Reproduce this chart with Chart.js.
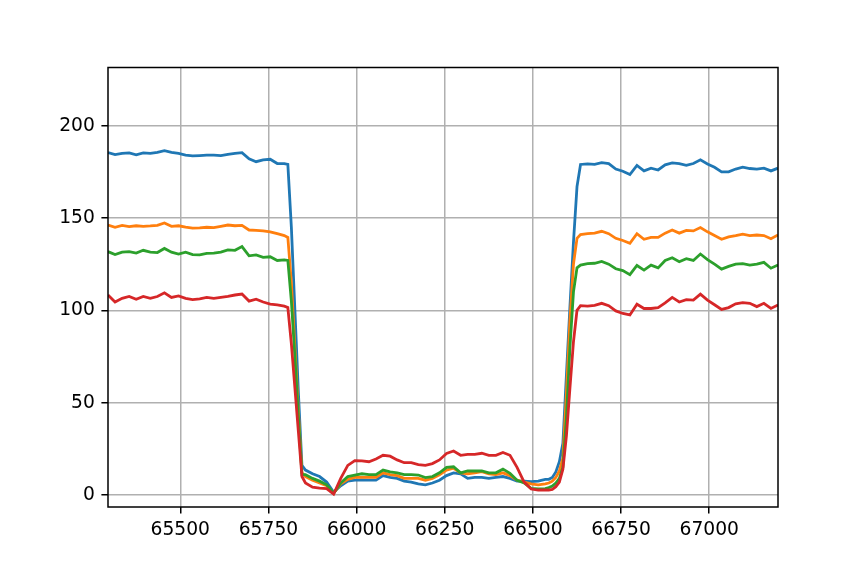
<!DOCTYPE html>
<html>
<head>
<meta charset="utf-8">
<script src="https://cdn.jsdelivr.net/npm/chart.js@4.4.1/dist/chart.umd.min.js"></script>
<style>
  html, body { margin: 0; padding: 0; background: #ffffff; }
  #wrap { width: 864px; height: 570px; }
</style>
</head>
<body>
<div id="wrap"><canvas id="c" width="864" height="570"></canvas></div>
<script>
// ---- data ----
const xValues = [
  65295,65315,65335,65355,65375,65395,65415,65435,65455,65475,65495,65515,65535,65555,65575,65595,65615,65635,65655,65675,65695,65715,65735,65755,65775,65795,
  65805,65815,65825,65835,65845,
  65855,65875,65895,65915,65935,65955,65975,65995,66015,66035,66055,66075,66095,66115,66135,66155,66175,66195,66215,66235,66255,66275,66295,66315,66335,66355,66375,66395,66415,66435,66455,66475,66495,66515,66535,
  66545,66555,66565,66575,66585,66595,66605,66615,66625,
  66635,66655,66675,66695,66715,66735,66755,66775,66795,66815,66835,66855,66875,66895,66915,66935,66955,66975,66995,67015,67035,67055,67075,67095,67115,67135,67155,67175,67195
];
const series1 = [
  185.4,184.3,185,185.3,184.2,185.3,185,185.5,186.5,185.5,185,184,183.6,183.8,184,184,183.8,184.5,185,185.4,182,180.5,181.5,181.8,179.5,179.5,
  179,145,100,55,16,
  13.5,11.5,10,7,1.5,5,7.5,8,8.2,8,8,10.5,9.5,9,7.5,7,6,5.5,6.5,8,10.5,12,11.5,9,9.5,9.5,9,9.5,10,9,7.5,7.5,7.2,7.5,8.5,
  8.5,9.5,12.5,18,28,65,102,137,167,
  179,179.3,179,180,179.5,176.5,175.3,173.5,178.5,175.5,177,176,178.8,179.8,179.5,178.5,179.5,181.5,179.3,177.5,175,175,176.5,177.5,176.8,176.5,177,175.5,177
];
const series2 = [
  146.2,145,146,145.3,145.8,145.5,145.7,146,147.3,145.5,145.8,145,144.5,144.6,145,144.8,145.5,146.2,145.8,146,143.5,143.3,143,142.5,141.5,140.5,
  139.5,115,80,45,12,
  10,8,6.5,5,1,6,8.5,9.5,9.5,9.5,9.5,12,11,10.5,9,9,9,8,9,11,13.5,14.5,12,11.5,12,12.6,11.5,11,12,10.5,8,7,6,5.5,6,
  6.5,7.5,9.5,13,20,55,95,125,139,
  141,141.5,141.8,142.8,141.5,139,137.8,136.3,141.5,138.5,139.5,139.5,141.8,143.5,141.8,143.3,143,144.8,142.5,140.5,138.5,139.8,140.5,141.3,140.5,140.8,140.5,138.8,140.8
];
const series3 = [
  131.8,130.2,131.5,131.8,131,132.5,131.5,131.3,133.5,131.5,130.5,131.5,130.2,130,130.8,131,131.5,132.7,132.5,134.5,129.5,130,128.7,129,127,127.3,
  127,105,75,42,11,
  11,9,7.5,5.5,1,6.5,10,10.8,11.5,11,11,13.5,12.5,12,11,11,10.8,9.4,10,12,15,15.3,12,13,13,13,12,12,14,11.7,8,6.5,3.6,3.3,3.5,
  4,4.8,6.5,9,15,42,80,110,123,
  124.5,125.3,125.5,126.5,125,122.5,121.5,119.3,124.3,121.8,124.5,123,127,128.5,126.3,128,127,130.5,127.5,125,122.3,123.8,125,125.3,124.5,125,126,122.8,124.5
];
const series4 = [
  108.3,104.5,106.5,107.5,106,107.5,106.5,107.5,109.5,107,107.8,106.5,105.8,106.2,107,106.5,107,107.5,108.3,108.8,105,106,104.5,103.4,103,102.3,
  101.5,82,58,34,10,
  6.5,4.2,3.7,3.5,0.5,9,16,18.6,18.5,18,19.5,21.5,21,19,17.5,17.5,16.5,16,17,19,22.5,23.8,21.5,22,22,22.6,21.5,21.5,23,21.5,15,7,3.3,2.7,2.7,
  2.7,3,4.5,7,14,32,58,83,100,
  102.5,102.3,102.7,103.8,102.5,99.7,98.3,97.5,103.3,101,101,101.5,104,107,104.5,105.8,105.5,108.8,105.5,103,100.5,101.5,103.5,104.2,103.8,102,103.8,101,102.9
];
const xTickValues = [65500, 65750, 66000, 66250, 66500, 66750, 67000];
const yTickValues = [0, 50, 100, 150, 200];
const seriesColors = ['#1f77b4', '#ff7f0e', '#2ca02c', '#d62728'];

// ---- chart ----
const allSeries = [series1, series2, series3, series4];
const datasets = allSeries.map((s, k) => ({
  data: s.map((v, i) => ({ x: xValues[i], y: v })),
  borderColor: seriesColors[k],
  backgroundColor: seriesColors[k],
  borderWidth: 2.8,
  pointRadius: 0,
  tension: 0,
  fill: false,
  order: allSeries.length - 1 - k
}));

const frame = {
  id: 'frame',
  afterDraw(chart) {
    const a = chart.chartArea, ctx = chart.ctx;
    ctx.save();
    ctx.strokeStyle = '#000';
    ctx.lineWidth = 1.5;
    ctx.strokeRect(a.left, a.top, a.right - a.left, a.bottom - a.top);
    ctx.restore();
  }
};

const font = { family: 'DejaVu Sans', size: 18.7 };

new Chart(document.getElementById('c'), {
  type: 'line',
  data: { datasets },
  plugins: [frame],
  options: {
    responsive: false,
    animation: false,
    layout: { padding: { top: 67.5, right: 86, left: 0, bottom: 0 } },
    plugins: { legend: { display: false }, tooltip: { enabled: false } },
    scales: {
      x: {
        type: 'linear',
        min: 65295, max: 67195,
        afterBuildTicks: s => { s.ticks = xTickValues.map(v => ({ value: v })); },
        afterFit: s => { s.height = 63; },
        grid: { color: '#b0b0b0', lineWidth: 1.5, tickLength: 6.6, tickColor: '#000', tickWidth: 1.5 },
        border: { display: false },
        ticks: { color: '#000', font, padding: 5, maxRotation: 0, autoSkip: false, callback: v => String(v) }
      },
      y: {
        type: 'linear',
        min: -6.5, max: 231.5,
        afterBuildTicks: s => { s.ticks = yTickValues.map(v => ({ value: v })); },
        afterFit: s => { s.width = 108; },
        grid: { color: '#b0b0b0', lineWidth: 1.5, tickLength: 6.6, tickColor: '#000', tickWidth: 1.5 },
        border: { display: false },
        ticks: { color: '#000', font, padding: 6.6, autoSkip: false, callback: v => String(v) }
      }
    }
  }
});
</script>
</body>
</html>
